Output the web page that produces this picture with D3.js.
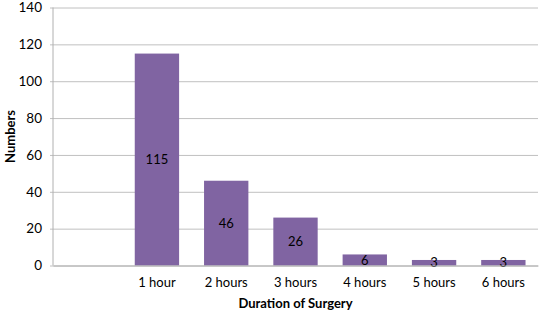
<!DOCTYPE html>
<html>
<head>
<meta charset="utf-8">
<script src="https://cdn.jsdelivr.net/npm/d3@7"></script>
<style>
  body { margin: 0; background: #fff; }
  text { font-family: Lato, "Open Sans", sans-serif; fill: #000; }
</style>
</head>
<body>
<div id="chart-area"><svg></svg></div>
<script>
const categories = ["", "1 hour", "2 hours", "3 hours", "4 hours", "5 hours", "6 hours"];
const counts = [null, 115, 46, 26, 6, 3, 3];
const yTicks = [0, 20, 40, 60, 80, 100, 120, 140];

const chartSize = { width: 540, height: 312 };
const margin = { left: 53, right: 2, top: 7.5, bottom: 46.5 };
const width = chartSize.width - margin.left - margin.right;
const height = chartSize.height - margin.top - margin.bottom;

const svg = d3.select('#chart-area svg')
    .attr('width', chartSize.width)
    .attr('height', chartSize.height);

const g = svg.append('g')
    .attr('transform', `translate(${margin.left},${margin.top})`);

const x = d3.scaleBand()
    .domain(categories)
    .range([0, width])
    .paddingInner(0.36)
    .paddingOuter(0.18);

const y = d3.scaleLinear()
    .domain([0, 140])
    .range([height, 0]);

// gridlines + y labels
const yAxis = d3.axisLeft(y).tickValues(yTicks).tickSize(-width).tickPadding(11);
g.append('g')
    .attr('class', 'y-axis')
    .call(yAxis)
    .call(a => a.select('.domain').remove())
    .call(a => a.selectAll('.tick line').attr('stroke', '#c0c0c0').attr('x1', -3))
    .call(a => a.selectAll('.tick text').attr('font-size', 13.5));

g.append('line')
    .attr('x1', 0).attr('x2', 0)
    .attr('y1', 0).attr('y2', height)
    .attr('stroke', '#b0b0b0');

const data = categories.map((c, i) => ({ c, v: counts[i] })).filter(d => d.v != null);

g.selectAll('rect.bar')
    .data(data)
    .enter()
    .append('rect')
    .attr('class', 'bar')
    .attr('x', d => x(d.c))
    .attr('width', x.bandwidth())
    .attr('y', d => y(d.v))
    .attr('height', d => height - y(d.v))
    .attr('fill', '#8064A2');

g.selectAll('text.val')
    .data(data)
    .enter()
    .append('text')
    .attr('class', 'val')
    .attr('x', d => x(d.c) + x.bandwidth() / 2)
    .attr('y', d => (y(d.v) + height) / 2)
    .attr('dy', '0.35em')
    .attr('text-anchor', 'middle')
    .attr('font-size', 13)
    .text(d => d.v);

// x axis
const xAxis = d3.axisBottom(x).tickSize(0).tickPadding(12);
g.append('g')
    .attr('class', 'x-axis')
    .attr('transform', `translate(0,${height})`)
    .call(xAxis)
    .call(a => a.select('.domain').attr('stroke', '#b0b0b0'))
    .call(a => a.selectAll('.tick text').attr('font-size', 13));

g.append('text')
    .attr('x', width / 2)
    .attr('y', height + 42)
    .attr('text-anchor', 'middle')
    .attr('font-size', 13)
    .attr('font-weight', 'bold')
    .text('Duration of Surgery');

g.append('text')
    .attr('transform', `translate(${-43},${height / 2}) rotate(-90)`)
    .attr('dy', '0.35em')
    .attr('text-anchor', 'middle')
    .attr('font-size', 13)
    .attr('font-weight', 'bold')
    .text('Numbers');
</script>
</body>
</html>
